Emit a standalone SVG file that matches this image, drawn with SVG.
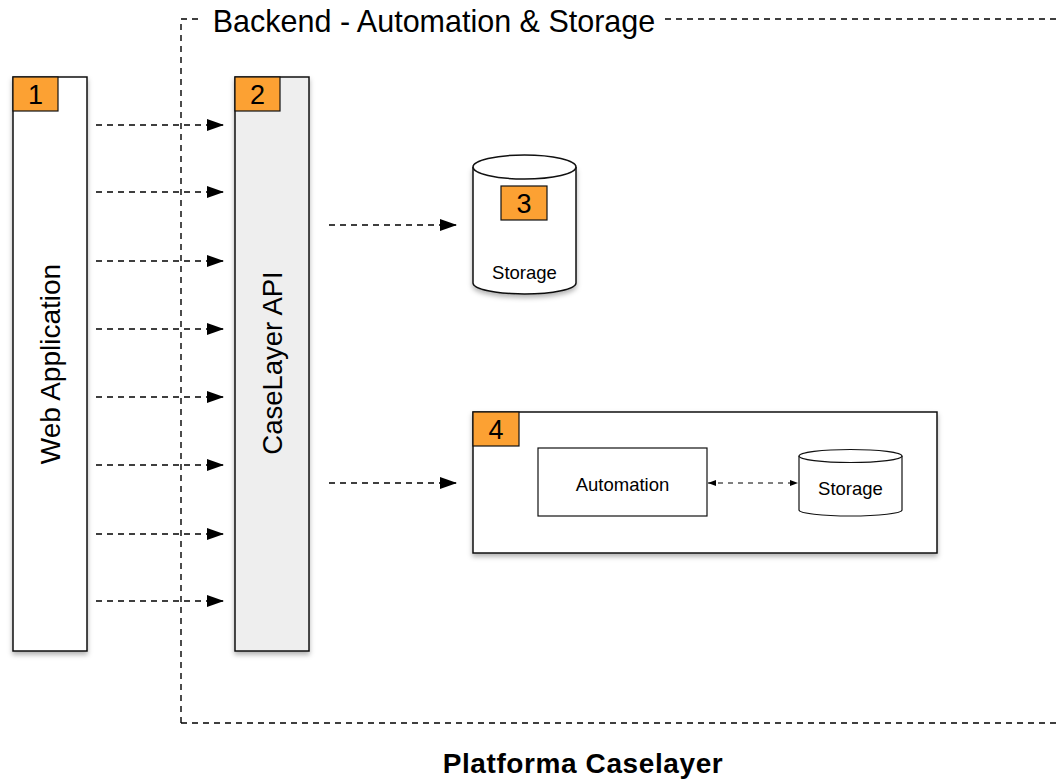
<svg xmlns="http://www.w3.org/2000/svg" width="1057" height="779" viewBox="0 0 1057 779">
<defs>
<style>
.box{stroke:#111;stroke-width:1.5}
.badge{fill:#fca133;stroke:#111;stroke-width:1.2}
.bt{font-family:"Liberation Sans",Arial,sans-serif;font-size:27px;fill:#000;text-anchor:middle}
.lbl{font-family:"Liberation Sans",Arial,sans-serif;fill:#000;text-anchor:middle}
.conn{stroke:#000;stroke-width:1.6;stroke-dasharray:6,5;fill:none}
</style>
<marker id="ah" markerWidth="17" markerHeight="12" refX="17" refY="6" orient="auto" markerUnits="userSpaceOnUse" viewBox="0 0 17 12"><path d="M0,0 L17,6 L0,12 z" fill="#000"/></marker>
<marker id="as" markerWidth="8" markerHeight="6" refX="8" refY="3" orient="auto-start-reverse" markerUnits="userSpaceOnUse" viewBox="0 0 8 6"><path d="M0,0 L8,3 L0,6 z" fill="#000"/></marker>
<filter id="sh" x="-20%" y="-20%" width="140%" height="140%"><feDropShadow dx="0" dy="3" stdDeviation="2.5" flood-color="#000" flood-opacity="0.3"/></filter>
</defs>
<rect width="1057" height="779" fill="#fff"/>

<g id="frame">
<path d="M181,723 L181,19 L203,19" class="conn" style="stroke-width:1.4"/>
<path d="M665,19 L1057,19" class="conn" style="stroke-width:1.4"/>
<path d="M181,723 L1057,723" class="conn" style="stroke-width:1.4"/>
<text x="434" y="32" class="lbl" style="font-size:30.5px">Backend - Automation &amp; Storage</text>
</g>

<g id="node1">
<rect x="13" y="77" width="74" height="574" fill="#fff" class="box" filter="url(#sh)"/>
<rect x="13" y="77" width="45" height="34" class="badge"/>
<text x="35.5" y="104" class="bt">1</text>
<text transform="translate(60,364) rotate(-90)" class="lbl" style="font-size:28px">Web Application</text>
</g>

<g id="node2">
<rect x="235" y="77" width="74" height="574" fill="#eeeeee" class="box" filter="url(#sh)"/>
<rect x="235" y="77" width="45" height="34" class="badge"/>
<text x="257.5" y="104" class="bt">2</text>
<text transform="translate(282,363) rotate(-90)" class="lbl" style="font-size:27.5px">CaseLayer API</text>
</g>

<g id="node3">
<path d="M473,167 L473,283 A51.5,11 0 0 0 576,283 L576,167" fill="#fff" class="box" filter="url(#sh)"/>
<ellipse cx="524.5" cy="167" rx="51.5" ry="12" fill="#fff" class="box"/>
<rect x="501" y="186" width="46" height="34" class="badge"/>
<text x="524" y="213" class="bt">3</text>
<text x="524.5" y="279" class="lbl" style="font-size:18.5px">Storage</text>
</g>

<g id="node4">
<rect x="473" y="412" width="464" height="141" fill="#fff" class="box" filter="url(#sh)"/>
<rect x="473" y="412" width="46" height="34" class="badge"/>
<text x="496" y="439" class="bt">4</text>
<g id="automation">
<rect x="538" y="448" width="169" height="68" fill="#fff" stroke="#111" stroke-width="1.2"/>
<text x="622.5" y="491" class="lbl" style="font-size:18.5px">Automation</text>
</g>
<g id="storage4">
<path d="M799,456 L799,510 A51.5,6 0 0 0 902,510 L902,456" fill="#fff" stroke="#111" stroke-width="1.2"/>
<ellipse cx="850.5" cy="456" rx="51.5" ry="6.5" fill="#fff" stroke="#111" stroke-width="1.2"/>
<text x="850.5" y="495" class="lbl" style="font-size:18.5px">Storage</text>
</g>
</g>

<g id="connectors">
<line x1="96" y1="125" x2="224" y2="125" class="conn" marker-end="url(#ah)"/>
<line x1="96" y1="192" x2="224" y2="192" class="conn" marker-end="url(#ah)"/>
<line x1="96" y1="261" x2="224" y2="261" class="conn" marker-end="url(#ah)"/>
<line x1="96" y1="329" x2="224" y2="329" class="conn" marker-end="url(#ah)"/>
<line x1="96" y1="397" x2="224" y2="397" class="conn" marker-end="url(#ah)"/>
<line x1="96" y1="465" x2="224" y2="465" class="conn" marker-end="url(#ah)"/>
<line x1="96" y1="534" x2="224" y2="534" class="conn" marker-end="url(#ah)"/>
<line x1="96" y1="601" x2="224" y2="601" class="conn" marker-end="url(#ah)"/>
<line x1="329" y1="225" x2="457" y2="225" class="conn" marker-end="url(#ah)"/>
<line x1="329" y1="483" x2="457" y2="483" class="conn" marker-end="url(#ah)"/>
<line x1="708" y1="483" x2="798" y2="483" class="conn" style="stroke-width:1;stroke-dasharray:5,5" marker-start="url(#as)" marker-end="url(#as)"/>
</g>

<text x="583" y="773" class="lbl" style="font-size:28px;font-weight:bold;letter-spacing:0.6px">Platforma Caselayer</text>
</svg>
